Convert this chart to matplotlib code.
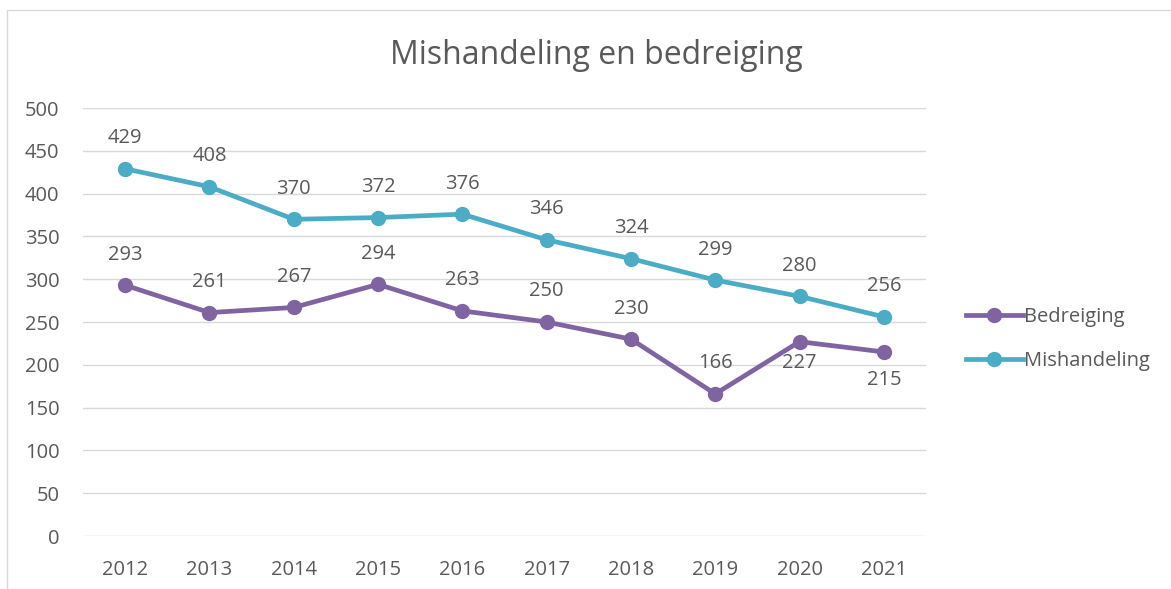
import matplotlib
matplotlib.use('Agg')
import matplotlib.pyplot as plt
from matplotlib.patches import Rectangle

years = ['2012', '2013', '2014', '2015', '2016', '2017', '2018', '2019', '2020', '2021']
bedreiging = [293, 261, 267, 294, 263, 250, 230, 166, 227, 215]
mishandeling = [429, 408, 370, 372, 376, 346, 324, 299, 280, 256]

# label offsets in points (Excel put some labels below)
bed_offsets = [22, 22, 22, 22, 22, 22, 22, 22, -15, -20]
mis_offsets = [22] * 10

purple = '#8064A2'
teal = '#4BACC6'
txt = '#595959'

plt.rcParams['font.family'] = ['Open Sans', 'DejaVu Sans']

fig = plt.figure(figsize=(11.71, 5.89), dpi=100)
fig.patches.append(Rectangle((7 / 1171, -0.1), 1.2, 1 - 10 / 589 + 0.1, transform=fig.transFigure,
                             fill=False, edgecolor='#D9D9D9', linewidth=1))
ax = fig.add_axes([83 / 1171, 1 - 536 / 589, (926 - 83) / 1171, (536 - 108) / 589])

x = range(len(years))
ax.plot(x, bedreiging, color=purple, lw=3.4, marker='o', ms=10, label='Bedreiging', zorder=3)
ax.plot(x, mishandeling, color=teal, lw=3.4, marker='o', ms=10, label='Mishandeling', zorder=3)

for i in x:
    ax.annotate(str(bedreiging[i]), (i, bedreiging[i]), xytext=(0, bed_offsets[i]),
                textcoords='offset points', ha='center', va='center', fontsize=14.5, color=txt)
    ax.annotate(str(mishandeling[i]), (i, mishandeling[i]), xytext=(0, mis_offsets[i]),
                textcoords='offset points', ha='center', va='center', fontsize=14.5, color=txt)

ax.set_xlim(-0.5, len(years) - 0.5)
ax.set_ylim(0, 500)
ax.set_yticks(range(0, 501, 50))
ax.set_xticks(list(x))
ax.set_xticklabels(years)
ax.grid(axis='y', color='#D9D9D9', lw=1)
ax.set_axisbelow(True)
for s in ax.spines.values():
    s.set_visible(False)
ax.tick_params(length=0, labelsize=14.5, colors=txt, pad=17)
ax.tick_params(axis='y', pad=17)

fig.text(596 / 1171, 1 - 55 / 589, 'Mishandeling en bedreiging', ha='center', va='center',
         fontsize=23, color=txt)

leg = ax.legend(loc='center left', bbox_to_anchor=(948 / 1171, 1 - 339 / 589),
                bbox_transform=fig.transFigure, frameon=False, fontsize=14.5,
                handlelength=2.8, handletextpad=0.05, labelspacing=1.2)
for t in leg.get_texts():
    t.set_color(txt)

plt.savefig('out.png', dpi=100)
